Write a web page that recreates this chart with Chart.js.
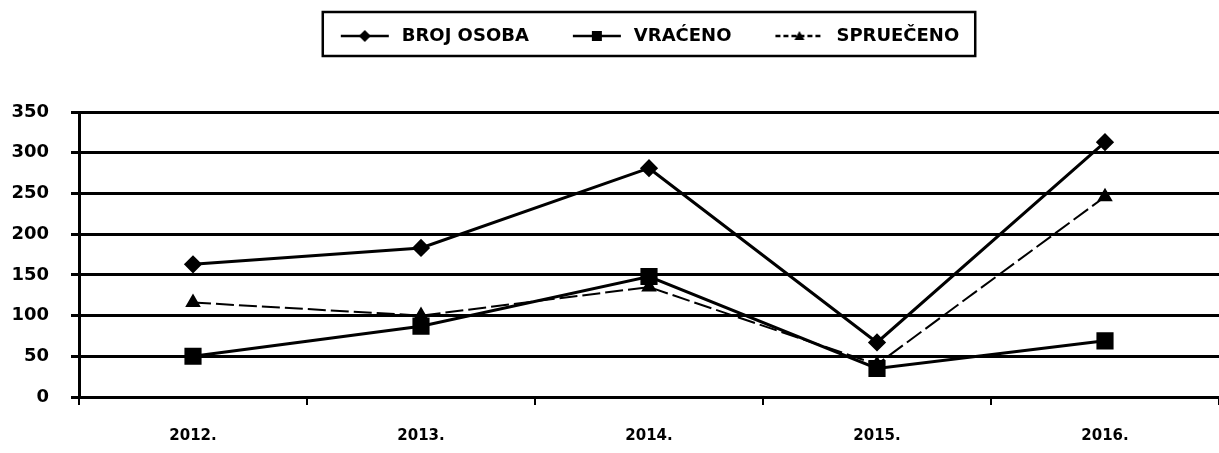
<!DOCTYPE html>
<html>
<head>
<meta charset="utf-8">
<script src="https://cdn.jsdelivr.net/npm/chart.js@4/dist/chart.umd.min.js"></script>
<style>
  html, body { margin: 0; padding: 0; background: #fff; overflow: hidden; }
  #wrap { width: 1232px; height: 453px; position: relative; }
  canvas { display: block; }
</style>
</head>
<body>
<div id="wrap"><canvas id="chart"></canvas></div>
<script>
const years = ['2012.', '2013.', '2014.', '2015.', '2016.'];
const brojOsoba = [163, 183, 281, 67, 313];
const vraceno = [50, 87, 148, 35, 69];
const sprueceno = [116, 100, 135, 40, 246];
const yTicks = [0, 50, 100, 150, 200, 250, 300, 350];

const FONT = '"DejaVu Sans", sans-serif';

// little legend symbols: line with the marker in the middle
function legendIcon(style, dash) {
    const c = document.createElement('canvas');
    c.width = 56; c.height = 16;
    const ctx = c.getContext('2d');
    ctx.strokeStyle = '#000';
    ctx.fillStyle = '#000';
    ctx.lineWidth = 2.5;
    if (dash) ctx.setLineDash(dash);
    ctx.beginPath();
    ctx.moveTo(4, 8); ctx.lineTo(52, 8);
    ctx.stroke();
    ctx.setLineDash([]);
    ctx.beginPath();
    if (style === 'diamond') {
        ctx.moveTo(28, 2); ctx.lineTo(34, 8); ctx.lineTo(28, 14); ctx.lineTo(22, 8);
    } else if (style === 'square') {
        ctx.rect(23, 3, 10, 10);
    } else {
        ctx.moveTo(28, 3); ctx.lineTo(33, 12); ctx.lineTo(23, 12);
    }
    ctx.closePath();
    ctx.fill();
    return c;
}

const LEGEND_SHIFT_X = 32;
const LEGEND_SHIFT_Y = -13;

const legendBox = {
    id: 'legendBox',
    beforeInit(chart) {
        const fit = chart.legend.fit;
        chart.legend.fit = function () {
            fit.bind(this)();
            this.height = 112;
        };
    },
    afterLayout(chart) {
        // legend sits a bit right of centre and close to the top in the original
        const lg = chart.legend;
        lg.left += LEGEND_SHIFT_X;
        lg.right += LEGEND_SHIFT_X;
        lg.top += LEGEND_SHIFT_Y;
        lg.bottom += LEGEND_SHIFT_Y;
    },
    afterDraw(chart) {
        const boxes = chart.legend.legendHitBoxes;
        if (!boxes || !boxes.length) return;
        const ctx = chart.ctx;
        const first = boxes[0], last = boxes[boxes.length - 1];
        ctx.save();
        ctx.strokeStyle = '#000';
        ctx.lineWidth = 2.5;
        ctx.strokeRect(first.left - 14, first.top - 15, last.left + last.width - first.left + 30, first.height + 26);
        ctx.restore();
    }
};

new Chart(document.getElementById('chart'), {
    type: 'line',
    data: {
        labels: years,
        datasets: [
            {
                label: 'BROJ OSOBA',
                data: brojOsoba,
                borderColor: '#000',
                backgroundColor: '#000',
                borderWidth: 3,
                pointStyle: 'rectRot',
                pointRadius: 7,
                tension: 0
            },
            {
                label: 'VRAĆENO',
                data: vraceno,
                borderColor: '#000',
                backgroundColor: '#000',
                borderWidth: 3,
                pointStyle: 'rect',
                pointRadius: 10,
                tension: 0
            },
            {
                label: 'SPRUEČENO',
                data: sprueceno,
                borderColor: '#000',
                backgroundColor: '#000',
                borderWidth: 2,
                borderDash: [18, 5],
                pointStyle: 'triangle',
                pointRadius: 7,
                tension: 0
            }
        ]
    },
    options: {
        responsive: true,
        maintainAspectRatio: false,
        animation: false,
        layout: { padding: { top: 0, left: 0, right: 0, bottom: 0 } },
        plugins: {
            legend: {
                position: 'top',
                labels: {
                    usePointStyle: true,
                    generateLabels(chart) {
                        const icons = [legendIcon('diamond'), legendIcon('square'), legendIcon('triangle', [5, 3])];
                        return chart.data.datasets.map((ds, i) => ({
                            text: ds.label,
                            pointStyle: icons[i],
                            fillStyle: '#000',
                            strokeStyle: '#000',
                            lineWidth: 0,
                            fontColor: '#000',
                            datasetIndex: i,
                            hidden: false
                        }));
                    },
                    color: '#000',
                    font: { family: FONT, size: 18, weight: 'bold' },
                    padding: 40,
                    boxWidth: 56,
                    pointStyleWidth: 56,
                    boxHeight: 16
                }
            },
            tooltip: { enabled: false }
        },
        scales: {
            x: {
                offset: true,
                grid: {
                    offset: true,
                    drawOnChartArea: false,
                    drawTicks: true,
                    tickLength: 8,
                    color: '#000',
                    lineWidth: 2
                },
                border: { color: '#000', width: 3 },
                ticks: {
                    color: '#000',
                    padding: 22,
                    font: { family: FONT, size: 15, weight: 'bold' }
                },
                afterFit(scale) { scale.height = 56; }
            },
            y: {
                min: 0,
                max: 350,
                afterBuildTicks(scale) { scale.ticks = yTicks.map(v => ({ value: v })); },
                grid: {
                    color: '#000',
                    lineWidth: 3,
                    tickLength: 8
                },
                border: { color: '#000', width: 3 },
                ticks: {
                    color: '#000',
                    padding: 22,
                    font: { family: FONT, size: 18, weight: 'bold' }
                },
                afterFit(scale) { scale.width = 79; }
            }
        }
    },
    plugins: [legendBox]
});
</script>
</body>
</html>
